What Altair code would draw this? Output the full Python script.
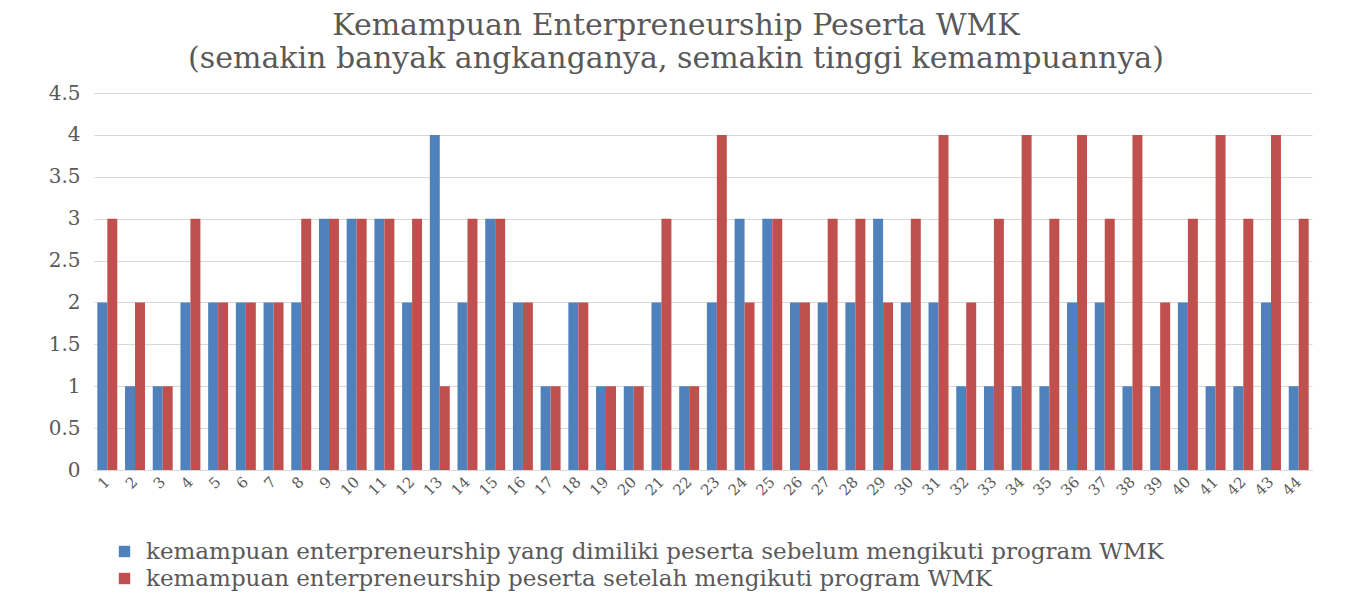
import altair as alt
import pandas as pd

categories = [str(i) for i in range(1, 45)]
sebelum = [2, 1, 1, 2, 2, 2, 2, 2, 3, 3, 3, 2, 4, 2, 3, 2, 1, 2, 1, 1, 2, 1,
           2, 3, 3, 2, 2, 2, 3, 2, 2, 1, 1, 1, 1, 2, 2, 1, 1, 2, 1, 1, 2, 1]
setelah = [3, 2, 1, 3, 2, 2, 2, 3, 3, 3, 3, 3, 1, 3, 3, 2, 1, 2, 1, 1, 3, 1,
           4, 2, 3, 2, 3, 3, 2, 3, 4, 2, 3, 4, 3, 4, 3, 4, 2, 3, 4, 3, 4, 3]
series = [
    "kemampuan enterpreneurship yang dimiliki peserta sebelum mengikuti program WMK",
    " kemampuan enterpreneurship peserta setelah mengikuti program WMK",
]
colors = ["#4F81BD", "#C0504D"]
y_ticks = [0, 0.5, 1, 1.5, 2, 2.5, 3, 3.5, 4, 4.5]

rows = []
for c, a, b in zip(categories, sebelum, setelah):
    rows.append({"kategori": c, "seri": series[0], "nilai": a})
    rows.append({"kategori": c, "seri": series[1], "nilai": b})
df = pd.DataFrame(rows)

FONT = "DejaVu Serif"
GRAY = "#595959"

chart = alt.Chart(df).mark_bar().encode(
    x=alt.X("kategori:N", sort=categories,
            scale=alt.Scale(paddingInner=0.28, paddingOuter=0.12),
            axis=alt.Axis(title=None, labelAngle=315, labelAlign="right",
                          labelBaseline="middle", labelFontSize=15,
                          labelColor=GRAY, labelFont=FONT, ticks=False,
                          domainColor="#d9d9d9", labelPadding=9)),
    xOffset=alt.XOffset("seri:N", sort=series, scale=alt.Scale(paddingInner=0, paddingOuter=0)),
    y=alt.Y("nilai:Q", scale=alt.Scale(domain=[0, 4.5], nice=False),
            axis=alt.Axis(title=None, values=y_ticks, labelFontSize=20,
                          labelColor=GRAY, labelFont=FONT, ticks=False,
                          domain=False, gridColor="#d9d9d9", labelPadding=14,
                          labelExpr="datum.value")),
    color=alt.Color("seri:N", sort=series,
                    scale=alt.Scale(domain=series, range=colors),
                    legend=alt.Legend(title=None, orient="none", legendX=19, legendY=447,
                                      direction="vertical", symbolType="square",
                                      symbolSize=130, symbolStrokeWidth=0,
                                      labelFontSize=23, labelFont=FONT, labelColor=GRAY,
                                      labelLimit=1300, rowPadding=3, labelOffset=10)),
).properties(
    width=1218,
    height=377,
    title=alt.TitleParams(
        text=["Kemampuan Enterpreneurship Peserta WMK",
              "(semakin banyak angkanganya, semakin tinggi kemampuannya)"],
        font=FONT, fontSize=30, fontWeight="normal", color=GRAY,
        anchor="middle", dx=-27, offset=9, lineHeight=33,
    ),
    autosize=alt.AutoSizeParams(type="none"),
    padding={"left": 86, "top": 85, "right": 30, "bottom": 128},
).configure_view(stroke=None)

chart.save("out.html", embed_options={"renderer": "svg", "actions": False})
